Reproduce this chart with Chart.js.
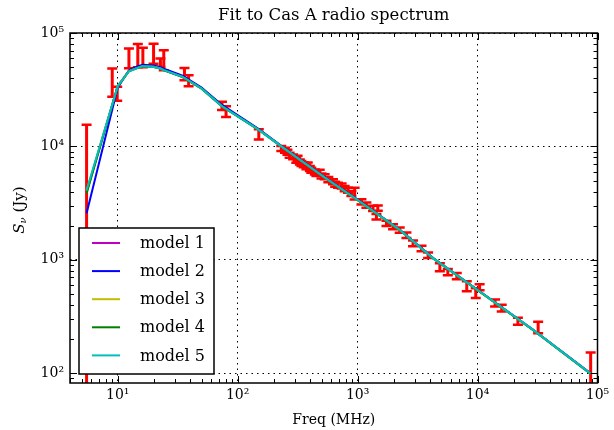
<!DOCTYPE html>
<html><head><meta charset="utf-8">
<script src="https://cdn.jsdelivr.net/npm/chart.js@4/dist/chart.umd.min.js"></script>
<style>html,body{margin:0;padding:0;background:#fff;}canvas{display:block;}</style>
</head><body>
<canvas id="c" width="614" height="430"></canvas>
<script>
const titleText = 'Fit to Cas A radio spectrum';
const xAxisTitle = 'Freq (MHz)';
const yTitleMain = 'S', yTitleSub = 'ν', yTitleRest = ' (Jy)';
const xTickValues = [10, 100, 1000, 10000, 100000];
const xTickLabels = ['10¹', '10²', '10³', '10⁴', '10⁵'];
const yTickValues = [100, 1000, 10000, 100000];
const yTickLabels = ['10²', '10³', '10⁴', '10⁵'];
const xMin = 4, xMax = 100000, yMin = 82, yMax = 100000;

// measured data (MHz, Jy, 1-sigma Jy)
const dataFreq = [5.5, 9.0, 9.9, 12.4, 14.7, 16.2, 19.9, 22.7, 24.2, 36, 39, 74, 80, 150, 231, 248, 260, 271, 290, 308, 316, 330, 340, 355, 374, 384, 400, 411, 440, 453, 483, 500, 531, 570, 623, 650, 686, 736, 780, 832, 887, 944, 1076, 1184, 1345, 1435, 1473, 1740, 1974, 2244, 2553, 2898, 3410, 3870, 4850, 5650, 6710, 8130, 9660, 10400, 14000, 15900, 21700, 32000, 87700];
const dataFlux = [6000, 38000, 29400, 61000, 65000, 62000, 67000, 55000, 58700, 43800, 38200, 22800, 20400, 12850, 9590, 9270, 8900, 8380, 8100, 7570, 7890, 7300, 7080, 6900, 6610, 6880, 6400, 6180, 5950, 5780, 5940, 5500, 5400, 5100, 4880, 4650, 4560, 4480, 4250, 4120, 3850, 3860, 3250, 3040, 2840, 2400, 2860, 2100, 1960, 1830, 1650, 1400, 1260, 1100, 864, 781, 720, 588, 510, 575, 417, 376, 288, 255, 115];
const dataErr = [9500, 10600, 4100, 12000, 15000, 12000, 13500, 4700, 11700, 5400, 4200, 1900, 2200, 1350, 500, 480, 450, 420, 400, 380, 400, 370, 350, 350, 330, 350, 320, 310, 300, 290, 300, 280, 270, 260, 250, 240, 230, 230, 220, 210, 200, 450, 170, 160, 150, 130, 150, 110, 100, 100, 90, 80, 70, 60, 70, 50, 45, 60, 50, 35, 30, 25, 20, 30, 37];

// fitted models, sampled at these frequencies
const modelFreq = [5.5, 10, 12.4, 14.7, 16.2, 20, 22.7, 24.2, 34.7, 50, 74, 150, 231, 530, 1000, 2250, 4270, 10000, 29100, 87700];
const model1 = [3950, 34200, 46300, 49600, 51200, 50400, 48700, 47100, 41100, 32400, 22700, 14050, 10000, 5330, 3370, 1830, 1030, 542, 241, 99];
const model2 = [2570, 33000, 47000, 51000, 52500, 51800, 50000, 48500, 42000, 33000, 23200, 14200, 10100, 5380, 3390, 1840, 1035, 545, 242, 100];
const model3 = [4050, 34100, 46100, 49400, 51100, 50300, 48600, 47000, 41000, 32400, 22600, 14000, 10000, 5320, 3365, 1828, 1029, 541, 240, 99];
const model4 = [3850, 33900, 46000, 49300, 51000, 50200, 48500, 46900, 40900, 32300, 22550, 13980, 9990, 5320, 3365, 1828, 1029, 541, 240, 98.5];
const model5 = [4100, 34000, 46000, 49300, 51000, 50200, 48600, 47000, 41000, 32400, 22600, 14000, 10000, 5330, 3370, 1830, 1030, 542, 241, 99];
const modelLabels = ['model 1', 'model 2', 'model 3', 'model 4', 'model 5'];
const modelColors = ['#bf00bf', '#0000ff', '#bfbf00', '#008000', '#00bfbf'];
const modelSeries = [model1, model2, model3, model4, model5];

const SERIF = "'DejaVu Serif', serif";

const datasets = modelSeries.map((vals, i) => ({
  label: modelLabels[i],
  data: modelFreq.map((f, j) => ({x: f, y: vals[j]})),
  showLine: true,
  borderColor: modelColors[i],
  backgroundColor: modelColors[i],
  borderWidth: 2,
  pointRadius: 0,
  tension: 0,
  order: 4 - i
}));

const errorBarPlugin = {
  id: 'errorBars',
  beforeDatasetsDraw(chart) {
    const {ctx, chartArea: a, scales: {x, y}} = chart;
    ctx.save();
    ctx.beginPath();
    ctx.rect(a.left, a.top, a.right - a.left, a.bottom - a.top);
    ctx.clip();
    ctx.strokeStyle = '#ff0000';
    for (let i = 0; i < dataFreq.length; i++) {
      const px = x.getPixelForValue(dataFreq[i]);
      const hi = dataFlux[i] + dataErr[i];
      const lo = Math.max(dataFlux[i] - dataErr[i], 1);
      const pyHi = y.getPixelForValue(hi);
      const pyLo = y.getPixelForValue(lo);
      ctx.lineWidth = 3;
      ctx.beginPath();
      ctx.moveTo(px, pyLo); ctx.lineTo(px, pyHi);
      ctx.stroke();
      ctx.lineWidth = 2.5;
      ctx.beginPath();
      ctx.moveTo(px - 5, pyHi); ctx.lineTo(px + 5, pyHi);
      ctx.moveTo(px - 5, pyLo); ctx.lineTo(px + 5, pyLo);
      ctx.stroke();
    }
    ctx.restore();
  }
};

function minorValues(min, max) {
  const out = [];
  for (let d = 1; d <= 1e5; d *= 10) {
    for (let k = 2; k <= 9; k++) {
      const v = k * d;
      if (v >= min && v <= max) out.push(v);
    }
  }
  return out;
}

const frameTickPlugin = {
  id: 'frameTicks',
  afterDatasetsDraw(chart) {
    const {ctx, chartArea: a, scales: {x, y}} = chart;
    ctx.save();
    ctx.strokeStyle = '#000';
    ctx.lineWidth = 1;
    const majL = 7, minL = 4;
    const drawX = (v, len) => {
      const p = Math.round(x.getPixelForValue(v)) + 0.5;
      ctx.beginPath();
      ctx.moveTo(p, a.bottom); ctx.lineTo(p, a.bottom - len);
      ctx.moveTo(p, a.top); ctx.lineTo(p, a.top + len);
      ctx.stroke();
    };
    const drawY = (v, len) => {
      const p = Math.round(y.getPixelForValue(v)) + 0.5;
      ctx.beginPath();
      ctx.moveTo(a.left, p); ctx.lineTo(a.left + len, p);
      ctx.moveTo(a.right, p); ctx.lineTo(a.right - len, p);
      ctx.stroke();
    };
    xTickValues.forEach(v => drawX(v, majL));
    minorValues(xMin, xMax).forEach(v => drawX(v, minL));
    yTickValues.forEach(v => drawY(v, majL));
    minorValues(yMin, yMax).forEach(v => drawY(v, minL));
    ctx.lineWidth = 1.5;
    ctx.strokeRect(a.left, a.top, a.right - a.left, a.bottom - a.top);
    ctx.restore();
  }
};

const legendPlugin = {
  id: 'boxLegend',
  afterDraw(chart) {
    const {ctx} = chart;
    const bx = 79, by = 228, bw = 135, bh = 146;
    ctx.save();
    ctx.fillStyle = '#fff';
    ctx.fillRect(bx, by, bw, bh);
    ctx.strokeStyle = '#000';
    ctx.lineWidth = 1.5;
    ctx.strokeRect(bx, by, bw, bh);
    ctx.font = '16px ' + SERIF;
    ctx.textBaseline = 'middle';
    ctx.textAlign = 'left';
    chart.data.datasets.forEach((ds, i) => {
      const yy = by + 15 + i * 28.1;
      ctx.strokeStyle = ds.borderColor;
      ctx.lineWidth = 2;
      ctx.beginPath();
      ctx.moveTo(92, yy); ctx.lineTo(120, yy);
      ctx.stroke();
      ctx.fillStyle = '#000';
      ctx.fillText(ds.label, 140, yy + 1);
    });
    ctx.restore();
  }
};

const yTitlePlugin = {
  id: 'yTitle',
  afterDraw(chart) {
    const {ctx, chartArea: a} = chart;
    ctx.save();
    ctx.translate(20, (a.top + a.bottom) / 2 + 2);
    ctx.rotate(-Math.PI / 2);
    ctx.fillStyle = '#000';
    ctx.textBaseline = 'middle';
    const f1 = 'italic 15px ' + SERIF, f2 = 'italic 10px ' + SERIF, f3 = '15px ' + SERIF;
    ctx.font = f1; const w1 = ctx.measureText(yTitleMain).width;
    ctx.font = f2; const w2 = ctx.measureText(yTitleSub).width;
    ctx.font = f3; const w3 = ctx.measureText(yTitleRest).width;
    let xx = -(w1 + w2 + w3) / 2;
    ctx.font = f1; ctx.fillText(yTitleMain, xx, 0); xx += w1;
    ctx.font = f2; ctx.fillText(yTitleSub, xx, 3); xx += w2;
    ctx.font = f3; ctx.fillText(yTitleRest, xx, 0);
    ctx.restore();
  }
};

new Chart(document.getElementById('c'), {
  type: 'scatter',
  data: {datasets},
  options: {
    responsive: false,
    animation: false,
    devicePixelRatio: 1,
    layout: {padding: {left: 0, right: 16.5, top: 0, bottom: 0}},
    plugins: {
      legend: {display: false},
      tooltip: {enabled: false},
      title: {
        display: true, text: titleText, fullSize: false,
        color: '#000', font: {family: SERIF, size: 16.5, weight: 'normal', lineHeight: 1.2},
        padding: {top: 6, bottom: 7.2}
      }
    },
    scales: {
      x: {
        type: 'logarithmic', min: xMin, max: xMax,
        afterBuildTicks(s) { s.ticks = xTickValues.map(v => ({value: v})); },
        afterFit(s) { s.height = 47; },
        grid: {color: '#000', lineWidth: 1, drawTicks: false},
        border: {display: false, dash: [1.5, 4]},
        ticks: {
          autoSkip: false, maxRotation: 0, padding: 4, color: '#000',
          font: {family: SERIF, size: 14},
          callback(v) { const i = xTickValues.indexOf(v); return i >= 0 ? xTickLabels[i] : ''; }
        },
        title: {display: true, text: xAxisTitle, color: '#000', font: {family: SERIF, size: 14}, padding: {top: 0, bottom: 1}}
      },
      y: {
        type: 'logarithmic', min: yMin, max: yMax,
        afterBuildTicks(s) { s.ticks = yTickValues.map(v => ({value: v})); },
        afterFit(s) { s.width = 70; },
        grid: {color: '#000', lineWidth: 1, drawTicks: false},
        border: {display: false, dash: [1.5, 4]},
        ticks: {
          autoSkip: false, padding: 6, color: '#000',
          font: {family: SERIF, size: 14},
          callback(v) { const i = yTickValues.indexOf(v); return i >= 0 ? yTickLabels[i] : ''; }
        },
        title: {display: false}
      }
    }
  },
  plugins: [errorBarPlugin, frameTickPlugin, legendPlugin, yTitlePlugin]
});
</script>
</body></html>
